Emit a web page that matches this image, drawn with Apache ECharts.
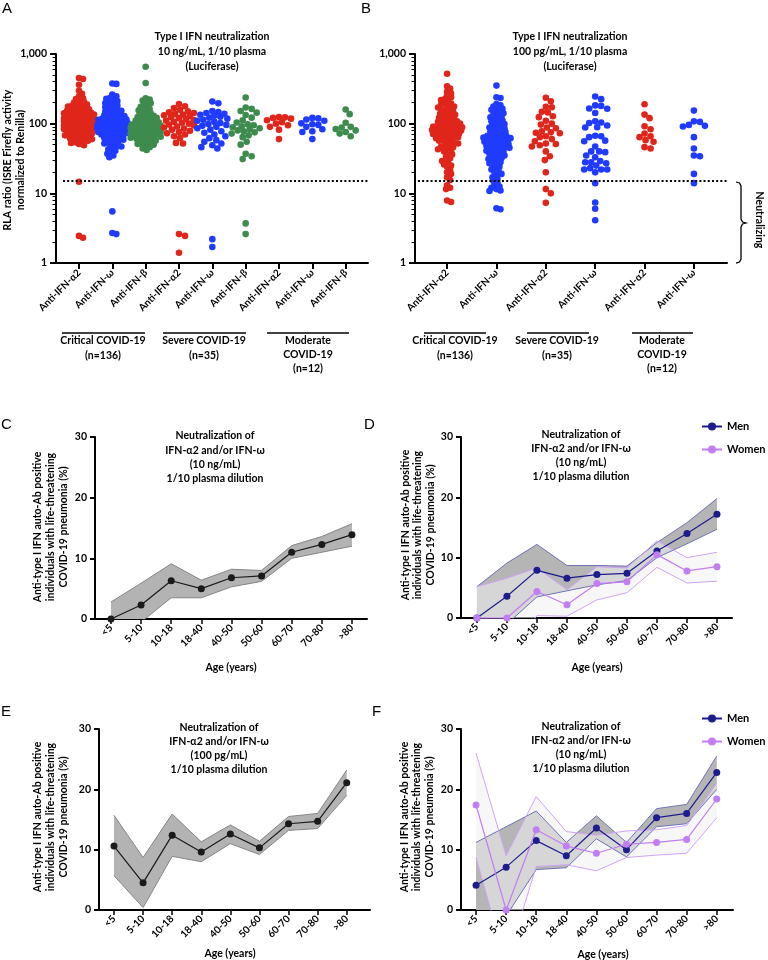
<!DOCTYPE html>
<html><head><meta charset="utf-8">
<script src="https://cdn.jsdelivr.net/npm/echarts@6/dist/echarts.min.js"></script>
<style>html,body{margin:0;padding:0;background:#fff}#c{width:768px;height:960px}</style>
</head><body><div id="c"></div>
<script>
// ---------- categories / ticks ----------
const catsA = ['Anti-IFN-α2','Anti-IFN-ω','Anti-IFN-β','Anti-IFN-α2','Anti-IFN-ω','Anti-IFN-β','Anti-IFN-α2','Anti-IFN-ω','Anti-IFN-β'];
const catsB = ['Anti-IFN-α2','Anti-IFN-ω','Anti-IFN-α2','Anti-IFN-ω','Anti-IFN-α2','Anti-IFN-ω'];
const ageCats = ['<5','5-10','10-18','18-40','40-50','50-60','60-70','70-80','>80'];
const logTicks = [1,10,100,1000];
const linTicks = [0,10,20,30];
const threshold = 15;

// ---------- panel A (10 ng/mL) ----------
const A_crit_a2 = [452,438,362,296,268,247,232,226,214,206,201,193,188,185,179,176,171,168,166,161,158,155,153,150,148,147,144,141,139,138,135,134,131,129,128,126,124,123,121,120,119,117,116,115,113,112,111,110,109,108,107,106,105,104,104,103,102,101,100,100,99,98,97,96,95,94,93,92,91,90,89,88,87,86,85,84,83,82,80,79,78,77,76,75,74,73,71,70,69,68,66,65,64,62,61,60,58,57,55,54,53,51,49,14.7,2.45,2.3];
const A_crit_w = [378,372,262,248,236,228,219,211,204,197,190,183,178,172,166,161,157,153,149,145,141,138,135,132,129,127,124,122,120,118,116,114,112,110,108,107,105,104,102,101,100,99,98,97,96,95,94,93,92,91,90,89,88,87,86,85,84,83,82,81,80,79,78,77,76,75,74,73,72,71,70,68,67,66,64,63,62,60,59,57,56,55,53,52,50,48,47,45,43,41,39,37,35,33,5.5,2.7,2.6];
const A_crit_b = [655,382,232,222,214,205,197,189,181,174,168,162,156,151,146,142,138,134,130,127,124,121,118,115,113,111,109,107,105,103,101,100,98,97,96,95,94,93,92,91,90,89,88,87,86,85,85,84,83,82,81,80,79,78,77,76,75,74,73,72,71,70,69,68,67,66,65,64,63,62,61,60,58,57,56,54,53,51,50,48,46,44,42];
const A_sev_a2 = [192,178,168,158,150,146,142,138,135,132,128,124,120,117,113,110,106,103,100,97,94,91,88,85,82,79,76,73,70,66,62,53,52,2.6,2.45,1.4];
const A_sev_w = [208,196,152,147,142,138,134,130,126,122,118,114,110,106,102,99,96,93,90,86,82,78,74,70,66,62,58,55,52,49,46,44,2.2,1.7];
const A_sev_b = [238,171,163,152,144,133,122,112,104,98,95,92,89,86,83,80,78,75,72,68,64,55,50,37,34,31,3.7,2.6];
const A_mod_a2 = [124,123,121,118,112,105,100,95,90,82,60];
const A_mod_w = [121,119,115,110,101,98,96,90,83,78,76,60];
const A_mod_b = [160,137,103,90,88,84,80,76,72,66];

// ---------- panel B (100 pg/mL) ----------
const B_crit_a2 = [520,345,318,290,272,255,240,228,218,210,202,195,188,182,176,170,165,160,155,150,146,142,138,134,130,127,124,121,118,115,112,110,108,106,104,102,100,98,96,95,93,92,90,89,88,87,86,85,84,83,82,81,80,79,78,77,76,75,74,72,71,70,68,67,66,64,63,62,60,58,57,55,54,52,50,49,47,46,44,43,41,40,38,36,34,32,30,29,27,26,25,24,22,20,19,17,15.5,13,12,11.5,7.9,7.5];
const B_crit_w = [352,240,234,192,183,176,170,164,158,152,146,141,136,131,127,123,119,115,111,108,105,102,99,96,93,90,88,86,84,82,80,78,76,74,72,70,68,67,66,65,64,63,62,61,60,59,58,57,56,55,54,53,52,51,50,49,48,47,46,45,44,43,42,41,40,39,38,37,36,35,34,33,32,31,30,29,28,27,26,25,24,23,22,21,20,19,18,17,16,15,14,13,12.5,12,11.5,11,10.8,6.1,5.9];
const B_sev_a2 = [235,210,175,172,148,145,128,124,110,100,97,88,86,78,75,74,73,66,64,60,56,52,51,49,47,40,34,30,20,11.5,10,7.3];
const B_sev_w = [246,225,183,180,165,164,142,108,104,102,94,89,88,67,66,64,57,56,47,40,40,39,35,33,28,28,29,27,25,23,22,22,22,20,14,7.4,6,4.1];
const B_mod_a2 = [190,135,120,92,83,72,66,64,58,55,46,44];
const B_mod_w = [154,108,106,96,93,91,64,44,35,34,19,14];

// ---------- panel C ----------
const C_val = [0,2.3,6.3,5.0,6.8,7.1,11.0,12.3,13.9];
const C_up  = [2.8,5.9,9.1,6.4,8.2,8.0,12.1,13.6,15.7];
const C_lo  = [-2.8,-0.5,3.5,3.5,5.3,6.2,10.0,11.0,12.0];
// ---------- panel D ----------
const D_men    = [0,3.6,7.9,6.6,7.2,7.4,11.1,14.0,17.2];
const D_men_up = [5.2,9.1,12.2,8.7,8.7,8.6,12.5,15.8,19.8];
const D_men_lo = [-5.2,-1.0,3.5,4.5,5.5,6.2,10.0,12.3,14.7];
const D_wom    = [0,0,4.4,2.2,5.7,6.0,10.5,7.8,8.5];
const D_wom_up = [5.2,6.6,8.3,4.7,8.5,8.3,12.8,10.0,10.9];
const D_wom_lo = [-5.2,-6.6,0.4,0.3,3.0,4.2,8.4,5.8,6.1];
// ---------- panel E ----------
const E_val = [10.6,4.5,12.4,9.6,12.6,10.3,14.3,14.7,21.1];
const E_up  = [15.7,8.7,15.9,11.3,14.1,11.4,15.5,16.0,23.2];
const E_lo  = [5.7,0.4,8.9,8.0,11.0,9.2,13.2,13.5,19.0];
// ---------- panel F ----------
const F_men    = [4.1,7.1,11.5,9.0,13.6,10.0,15.3,16.0,22.8];
const F_men_up = [11.2,13.8,16.4,11.2,15.6,11.2,16.8,17.5,25.5];
const F_men_lo = [-2.5,-1.0,6.7,7.0,11.8,8.8,13.8,14.3,20.0];
const F_wom    = [17.4,0,13.3,10.6,9.4,10.9,11.2,11.7,18.4];
const F_wom_up = [26.0,9.0,18.8,13.0,12.4,13.1,13.3,14.0,21.0];
const F_wom_lo = [8.7,-9.0,7.2,7.5,6.5,8.7,9.1,9.4,15.3];

// ---------- styling / layout ----------
const RED='#e0261b', BLUE='#1f3bff', GREEN='#3d8c4e';
const NAVY='#1c1c8c', LAV='#c17df2';
const FONT='Lato, "Open Sans", "DejaVu Sans", sans-serif';
const G = {
  A:{left:56,top:54,width:312,height:209},
  B:{left:415,top:54,width:312,height:209},
  C:{left:95,top:437,width:272,height:182},
  D:{left:461,top:437,width:271,height:181},
  E:{left:99,top:729,width:271,height:181},
  F:{left:461,top:729,width:272,height:181}
};
const XR = {A:[-0.69,8.67],B:[-0.65,5.67],C:[-0.53,8.5],D:[-0.53,8.5],E:[-0.515,8.8],F:[-0.5,8.54]};
const order = ['A','B','C','D','E','F'];

// beeswarm layout (deterministic, from values)
function swarm(vals, idx, pxPerUnit, pxPerDecade, dotD, maxHalf){
  const pts = vals.map(v=>({v, y:Math.log10(v)*pxPerDecade}));
  pts.sort((a,b)=>b.v-a.v);
  const placed=[]; const thr=dotD*(vals.length>60?0.56:0.9);
  for(const p of pts){
    let best=0,bestD=-1;
    for(let k=0;k<=2*maxHalf;k++){
      const off=(k%2===1?1:-1)*Math.ceil(k/2);
      let md=Infinity;
      for(const q of placed){const dy=q.y-p.y; if(Math.abs(dy)>=thr) continue; const d=Math.hypot(q.x-off,dy); if(d<md) md=d;}
      if(md>=thr){best=off;bestD=md;break;}
      if(md>bestD){bestD=md;best=off;}
    }
    p.x=best; placed.push(p);
  }
  return pts.map(p=>[idx+p.x/pxPerUnit, p.v]);
}

const lbl = {fontFamily:FONT,fontWeight:'bold',fontSize:10,color:'#000'};
const minorLog=[]; for(let d=0;d<3;d++){for(let m=2;m<10;m++){minorLog.push(Math.log10(m)+d);}}

const grid = order.map(k=>Object.assign({},G[k]));
const xAxis = order.map((k,i)=>{
  const arr=(i===0?catsA:(i===1?catsB:ageCats));
  return {
  type:'value', gridIndex:i, min:XR[k][0], max:XR[k][1],
  axisLine:{show:true,onZero:false,lineStyle:{color:'#000',width:2}},
  splitLine:{show:false},
  axisTick:{show:true,length:(i<2?6:5),lineStyle:{color:'#000',width:(i<2?2:1.5)},
    customValues:arr.map((c,j)=>j)},
  axisLabel:{show:true,rotate:45,margin:(i<2?8:7),...lbl,
    customValues:arr.map((c,j)=>j),
    formatter:(v)=>arr[Math.round(v)]}
  };
});
const yAxis = [];
[0,1].forEach(g=>{
  yAxis.push({type:'log',logBase:10,gridIndex:g,min:1,max:1000,
    axisLine:{show:true,onZero:false,lineStyle:{color:'#000',width:2}},splitLine:{show:false},
    axisTick:{show:true,length:6,lineStyle:{color:'#000',width:2}},
    axisLabel:{...lbl,fontSize:10.5,margin:9,formatter:(v)=>v>=1000?'1,000':String(v)}});
  yAxis.push({type:'value',gridIndex:g,min:0,max:3,position:'left',
    axisLine:{show:false,onZero:false},splitLine:{show:false},axisLabel:{show:false},
    axisTick:{show:true,length:3.5,lineStyle:{color:'#000',width:1},customValues:minorLog}});
});
[2,3,4,5].forEach(g=>{
  yAxis.push({type:'value',gridIndex:g,min:0,max:30,interval:10,
    axisLine:{show:true,onZero:false,lineStyle:{color:'#000',width:2}},splitLine:{show:false},
    axisTick:{show:true,length:5,lineStyle:{color:'#000',width:2}},
    axisLabel:{...lbl,fontSize:10.5,margin:8}});
});
// yAxis indices: A=0, B=2, C=4, D=5, E=6, F=7

const series=[];
function addSwarm(groups, colors, xi, yi, key){
  const g=G[key]; const ppu=g.width/(XR[key][1]-XR[key][0]); const ppd=g.height/3;
  groups.forEach((vals,j)=>{
    const s={type:'scatter',xAxisIndex:xi,yAxisIndex:yi,silent:true,symbolSize:6.6,
      itemStyle:{color:colors[j],opacity:1},data:swarm(vals,j,ppu,ppd,6.6,15),z:3};
    if(j===0){
      s.markLine={silent:true,symbol:['none','none'],label:{show:false},animation:false,
        lineStyle:{type:[2,2.2],color:'#000',width:2},
        data:[[{coord:[(key==='A'?-0.48:-0.59),threshold]},{coord:[XR[key][1],threshold]}]]};
    }
    series.push(s);
  });
}
addSwarm([A_crit_a2,A_crit_w,A_crit_b,A_sev_a2,A_sev_w,A_sev_b,A_mod_a2,A_mod_w,A_mod_b],
  [RED,BLUE,GREEN,RED,BLUE,GREEN,RED,BLUE,GREEN],0,0,'A');
addSwarm([B_crit_a2,B_crit_w,B_sev_a2,B_sev_w,B_mod_a2,B_mod_w],
  [RED,BLUE,RED,BLUE,RED,BLUE],1,2,'B');

function band(xi,yi,lo,up,fill,z){
  series.push({type:'custom',xAxisIndex:xi,yAxisIndex:yi,clip:true,silent:true,z:z,
    data:lo.map((l,i)=>[i,l,up[i]]),encode:{x:0,y:[1,2]},
    renderItem:(params,api)=>{
      if(params.dataIndex!==0) return null;
      const pts=[];
      for(let i=0;i<up.length;i++) pts.push(api.coord([i,up[i]]));
      for(let i=lo.length-1;i>=0;i--) pts.push(api.coord([i,lo[i]]));
      return {type:'polygon',shape:{points:pts},style:{fill:fill,stroke:null}};
    }});
}
function edge(xi,yi,vals,color,z){
  series.push({type:'line',xAxisIndex:xi,yAxisIndex:yi,silent:true,showSymbol:false,symbol:'none',z:z,
    data:vals.map((v,i)=>[i,v]),lineStyle:{color:color,width:1},clip:true});
}
function main(xi,yi,vals,color,name,z){
  series.push({type:'line',name:name,xAxisIndex:xi,yAxisIndex:yi,silent:true,symbol:'circle',symbolSize:7,z:z,
    data:vals.map((v,i)=>[i,v]),lineStyle:{color:color,width:1.2},itemStyle:{color:color},clip:false});
}
// C
band(2,4,C_lo,C_up,'#b3b3b3',1); edge(2,4,C_up,'#858585',2); edge(2,4,C_lo,'#858585',2); main(2,4,C_val,'#1a1a1a','C',4);
// E
band(4,6,E_lo,E_up,'#b3b3b3',1); edge(4,6,E_up,'#858585',2); edge(4,6,E_lo,'#858585',2); main(4,6,E_val,'#1a1a1a','E',4);
// D
band(3,5,D_men_lo,D_men_up,'#b5b5b5',1); band(3,5,D_wom_lo,D_wom_up,'rgba(240,240,240,0.55)',1);
edge(3,5,D_men_up,'#6f73b5',2); edge(3,5,D_men_lo,'#6f73b5',2); edge(3,5,D_wom_up,'#cfa4f5',2); edge(3,5,D_wom_lo,'#cfa4f5',2);
main(3,5,D_men,NAVY,'Men',4); main(3,5,D_wom,LAV,'Women',5);
// F
band(5,7,F_men_lo,F_men_up,'#b5b5b5',1); band(5,7,F_wom_lo,F_wom_up,'rgba(240,240,240,0.55)',1);
edge(5,7,F_men_up,'#6f73b5',2); edge(5,7,F_men_lo,'#6f73b5',2); edge(5,7,F_wom_up,'#cfa4f5',2); edge(5,7,F_wom_lo,'#cfa4f5',2);
main(5,7,F_men,NAVY,'Men',4); main(5,7,F_wom,LAV,'Women',5);

// ---------- text / annotations ----------
const gfx=[];
function txt(x,y,text,o={}){
  gfx.push({type:'text',x:x,y:y,rotation:o.rot||0,silent:true,z:10,
    style:{text:text,fill:'#000',font:o.font||('bold 10.5px '+FONT),textAlign:o.align||'center',
      textVerticalAlign:o.va||'middle',lineHeight:o.lh||14}});
}
function hline(x1,x2,y){gfx.push({type:'line',silent:true,shape:{x1:x1,y1:y,x2:x2,y2:y},style:{stroke:'#000',lineWidth:1.3}});}
const letterFont='normal 15px "Liberation Sans", Arial, sans-serif';
txt(2,2,'A',{font:letterFont,align:'left',va:'top'});
txt(361,2,'B',{font:letterFont,align:'left',va:'top'});
txt(1,418,'C',{font:letterFont,align:'left',va:'top'});
txt(364,418,'D',{font:letterFont,align:'left',va:'top'});
txt(1,705,'E',{font:letterFont,align:'left',va:'top'});
txt(372,705,'F',{font:letterFont,align:'left',va:'top'});
// panel titles
txt(212,52,'Type I IFN neutralization\n10 ng/mL, 1/10 plasma\n(Luciferase)',{lh:15});
txt(570,52,'Type I IFN neutralization\n100 pg/mL, 1/10 plasma\n(Luciferase)',{lh:15});
txt(215,457.5,'Neutralization of\nIFN-α2 and/or IFN-ω\n(10 ng/mL)\n1/10 plasma dilution',{lh:14.3});
txt(581,456,'Neutralization of\nIFN-α2 and/or IFN-ω\n(10 ng/mL)\n1/10 plasma dilution',{lh:14});
txt(219,749,'Neutralization of\nIFN-α2 and/or IFN-ω\n(100 pg/mL)\n1/10 plasma dilution',{lh:14});
txt(581,748,'Neutralization of\nIFN-α2 and/or IFN-ω\n(10 ng/mL)\n1/10 plasma dilution',{lh:14});
// y axis titles
txt(14,160,'RLA ratio (ISRE Firefly activity\nnormalized to Renilla)',{rot:Math.PI/2,lh:13.5});
const ytl='Anti-type I IFN auto-Ab positive\nindividuals with life-threatening\nCOVID-19 pneumonia (%)';
txt(50.5,527,ytl,{rot:Math.PI/2,lh:12.8});
txt(418,525,ytl,{rot:Math.PI/2,lh:12.8});
txt(50.5,817,ytl,{rot:Math.PI/2,lh:12.8});
txt(417,817,ytl,{rot:Math.PI/2,lh:12.8});
// x axis titles
txt(231,668,'Age (years)'); txt(597,668,'Age (years)');
txt(230,954,'Age (years)'); txt(603,955,'Age (years)');
// group underlines + labels (A)
hline(62,145,333); hline(163,246,333); hline(267,349,333);
txt(103,348,'Critical COVID-19\n(n=136)',{lh:14.5});
txt(204,348,'Severe COVID-19\n(n=35)',{lh:14.5});
txt(308,355,'Moderate\nCOVID-19\n(n=12)',{lh:14});
// (B)
hline(424,486,333); hline(527,589,333); hline(632,693,333);
txt(455,348,'Critical COVID-19\n(n=136)',{lh:14.5});
txt(557,348,'Severe COVID-19\n(n=35)',{lh:14.5});
txt(662,355,'Moderate\nCOVID-19\n(n=12)',{lh:14});
// brace + Neutralizing
gfx.push({type:'polyline',silent:true,shape:{points:[[736,182],[739.5,183],[741,186],[741,219],[742.5,222],[746,223],[742.5,224],[741,227],[741,259],[739.5,262],[736,263]]},
  style:{stroke:'#000',fill:null,lineWidth:1.3}});
txt(759,220,'Neutralizing',{rot:-Math.PI/2});

const legendBase={orient:'vertical',padding:0,itemWidth:20,itemHeight:10,itemGap:12,data:['Men','Women'],selectedMode:false,
  textStyle:{fontFamily:FONT,fontWeight:'bold',fontSize:11,color:'#000',overflow:'none'}};

const chart=echarts.init(document.getElementById('c'),null,{renderer:'canvas',width:768,height:960});
chart.setOption({
  animation:false, backgroundColor:'#fff',
  grid:grid, xAxis:xAxis, yAxis:yAxis, series:series, graphic:gfx,
  legend:[Object.assign({left:701,top:421},legendBase),Object.assign({left:701,top:713},legendBase)]
});
</script></body></html>
